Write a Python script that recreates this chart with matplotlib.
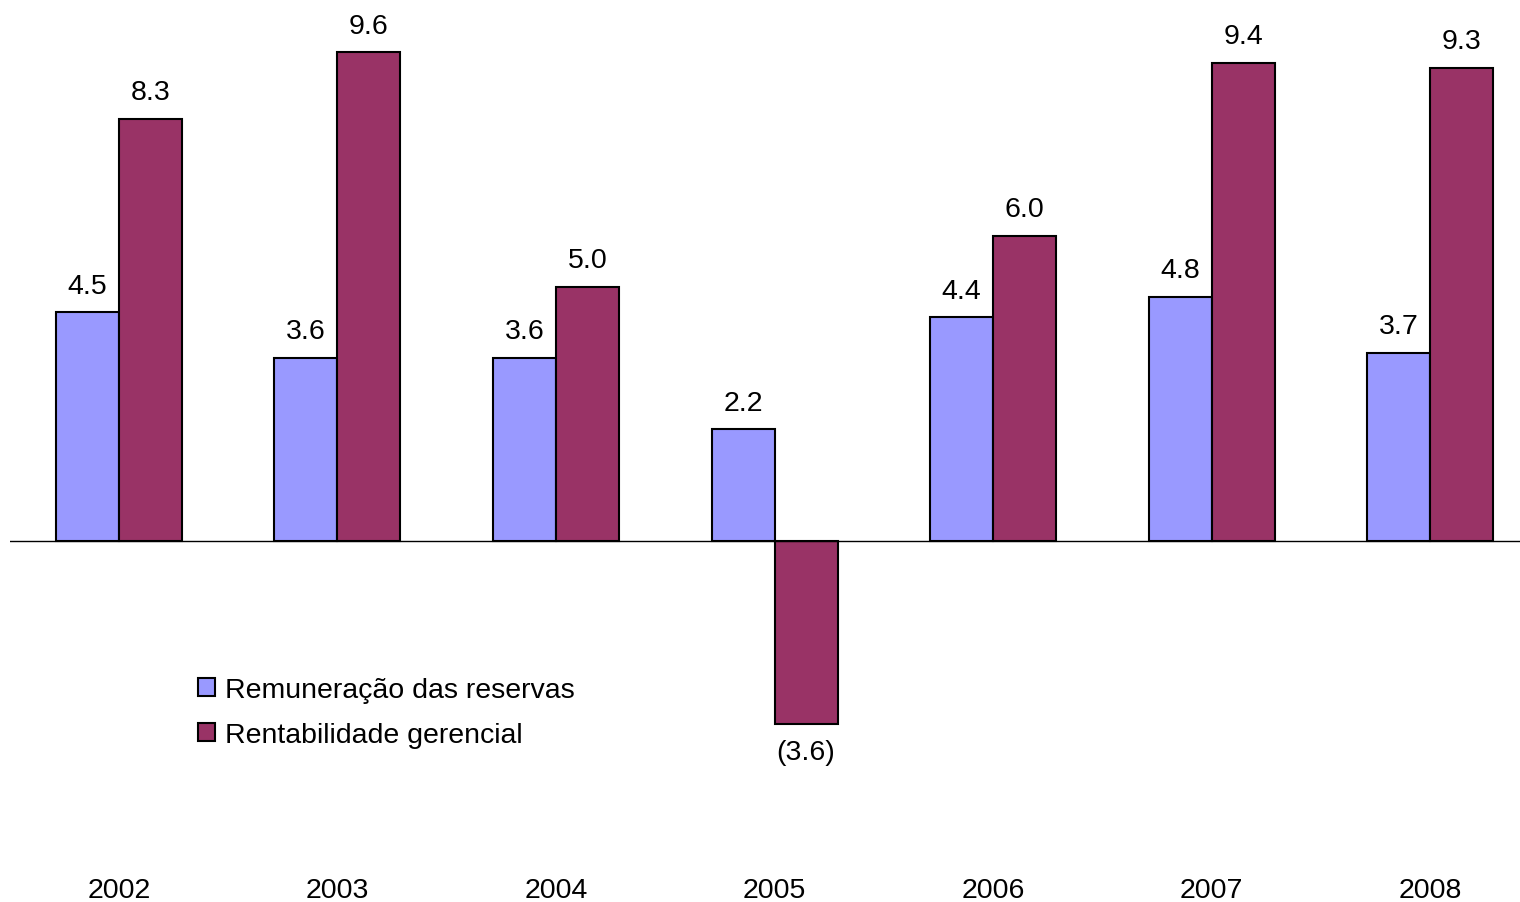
import numpy as np
import matplotlib.pyplot as plt

plt.rcParams['font.family'] = ['Liberation Sans', 'DejaVu Sans']

# years
anos = ['2002', '2003', '2004', '2005', '2006', '2007', '2008']
# Remuneracao das reservas
remuneracao = [4.5, 3.6, 3.6, 2.2, 4.4, 4.8, 3.7]
# Rentabilidade gerencial
rentabilidade = [8.3, 9.6, 5.0, -3.6, 6.0, 9.4, 9.3]

azul = '#9999FF'
vinho = '#993366'

fig = plt.figure(figsize=(15.2, 9.03), dpi=100)
W, H = 1520, 903
top_px, bot_px = 10, 868
ax = fig.add_axes([10 / W, 1 - bot_px / H, 1 - 10 / W, (bot_px - top_px) / H])

x = np.arange(len(anos))
w = 0.288
b1 = ax.bar(x - w / 2, remuneracao, w, color=azul, edgecolor='black', linewidth=1.5,
            label='Remuneração das reservas')
b2 = ax.bar(x + w / 2, rentabilidade, w, color=vinho, edgecolor='black', linewidth=1.5,
            label='Rentabilidade gerencial')

def fmt(v):
    return '(%.1f)' % abs(v) if v < 0 else '%.1f' % v

for bars, vals in [(b1, remuneracao), (b2, rentabilidade)]:
    for b, v in zip(bars, vals):
        off = 19 if v >= 0 else -20
        ax.annotate(fmt(v), (b.get_x() + b.get_width() / 2, v), xytext=(0, off),
                    textcoords='offset points', ha='center', va='center', fontsize=20.5)

ax.axhline(0, color='black', linewidth=1)

scale = 50.9
ax.set_ylim(-(bot_px - 542) / scale, (542 - top_px) / scale)
ax.set_xlim(-0.498, 6.41)

ax.set_xticks(x)
ax.set_xticklabels(anos, fontsize=20.5)
ax.tick_params(axis='x', length=0, pad=7)
ax.set_yticks([])
for s in ax.spines.values():
    s.set_visible(False)

ax.legend(loc='upper left', bbox_to_anchor=(0.117, 0.235), frameon=False, fontsize=20.5,
          handlelength=0.6, handleheight=0.6, handletextpad=0.35, labelspacing=0.68,
          borderaxespad=0)

fig.savefig('out.png', dpi=100)
